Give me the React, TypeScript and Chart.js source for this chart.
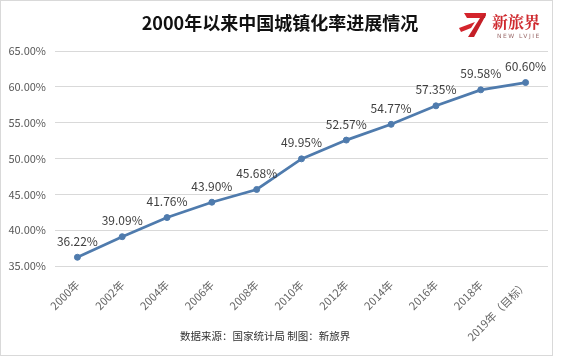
import React, { useEffect, useRef } from "react";
import { Chart, registerables } from "chart.js";

Chart.register(...registerables);

const categories = ["2000年", "2002年", "2004年", "2006年", "2008年", "2010年", "2012年", "2014年", "2016年", "2018年", "2019年（目标）"];
const rates = [36.22, 39.09, 41.76, 43.9, 45.68, 49.95, 52.57, 54.77, 57.35, 59.58, 60.6];
const yMin = 35;
const yMax = 65;
const yStep = 5;

const FONT = "'Noto Sans CJK SC', 'Noto Sans', sans-serif";

const dataLabels = {
  id: "dataLabels",
  afterDatasetsDraw(chart: any) {
    const ctx = chart.ctx;
    const meta = chart.getDatasetMeta(0);
    ctx.save();
    ctx.font = `12px ${FONT}`;
    ctx.fillStyle = "#404040";
    ctx.textAlign = "center";
    ctx.textBaseline = "middle";
    meta.data.forEach((pt: any, i: number) => {
      ctx.fillText(rates[i].toFixed(2) + "%", pt.x, pt.y - 16);
    });
    ctx.restore();
  },
};

export default function App() {
  const ref = useRef<HTMLCanvasElement>(null);
  useEffect(() => {
    document.body.style.margin = "0";
    const chart = new Chart(ref.current!, {
      type: "line",
      data: {
        labels: categories,
        datasets: [
          {
            data: rates,
            borderColor: "#4f7bad",
            backgroundColor: "#4f7bad",
            borderWidth: 2.75,
            pointRadius: 3,
            pointBorderWidth: 1,
            pointBackgroundColor: "#4f7bad",
            pointBorderColor: "#4f7bad",
            tension: 0,
          },
        ],
      },
      options: {
        responsive: false,
        animation: false,
        layout: { padding: { top: 51, right: 16, bottom: 0, left: 0 } },
        plugins: { legend: { display: false }, title: { display: false }, tooltip: { enabled: false } },
        scales: {
          x: {
            type: "category",
            offset: true,
            grid: { display: false, drawTicks: false },
            border: { display: false },
            ticks: {
              color: "#666666",
              font: { family: FONT, size: 11 },
              maxRotation: 45,
              minRotation: 45,
              autoSkip: false,
              padding: 12,
            },
            afterFit: (s: any) => {
              s.height = 90;
            },
          },
          y: {
            min: yMin,
            max: yMax,
            grid: { color: "#d9d9d9", drawTicks: false, lineWidth: 1 },
            border: { display: false },
            ticks: {
              stepSize: yStep,
              color: "#595959",
              font: { family: FONT, size: 11 },
              padding: 9,
              callback: (v: any) => Number(v).toFixed(2) + "%",
            },
            afterFit: (s: any) => {
              s.width = 55;
            },
          },
        },
      },
      plugins: [dataLabels],
    });
    return () => chart.destroy();
  }, []);

  return (
    <div style={{ position: "fixed", left: 0, top: 0, width: 564, height: 356, background: "#fff", fontFamily: FONT }}>
      <canvas ref={ref} width={564} height={356} style={{ position: "absolute", left: 0, top: 0 }} />
      <div
        style={{
          position: "absolute",
          left: 0,
          top: 0,
          width: 551,
          height: 354,
          border: "1px solid #d9d9d9",
          pointerEvents: "none",
        }}
      />
      <div
        style={{
          position: "absolute",
          left: 100,
          width: 360,
          top: 10,
          textAlign: "center",
          fontSize: 18,
          fontWeight: 700,
          color: "#111",
          lineHeight: "24px",
        }}
      >
        2000年以来中国城镇化率进展情况
      </div>
      <svg style={{ position: "absolute", left: 458, top: 12 }} width={30} height={26} viewBox="0 0 30 26">
        <polygon points="6,1 28,1 27,6 9,6" fill="#d4242c" />
        <polygon points="27,1 28,3 16,25 10,25 22,6" fill="#c41f27" />
        <polygon points="1,16 17,10 13,16 3,20" fill="#d4242c" />
      </svg>
      <div
        style={{
          position: "absolute",
          left: 492,
          top: 12,
          fontSize: 16,
          fontWeight: 700,
          color: "#cf2a2f",
          fontFamily: "'Noto Serif CJK SC', 'Noto Sans CJK SC', serif",
          lineHeight: "20px",
          letterSpacing: 0,
        }}
      >
        新旅界
      </div>
      <div
        style={{
          position: "absolute",
          left: 497,
          top: 32,
          fontSize: 6,
          color: "#9a6a6a",
          letterSpacing: 1.5,
          lineHeight: "8px",
          fontFamily: "'DejaVu Sans', sans-serif",
        }}
      >
        NEW LVJIE
      </div>
      <div
        style={{
          position: "absolute",
          left: 180,
          top: 328,
          fontSize: 10.5,
          color: "#333",
          lineHeight: "16px",
          whiteSpace: "nowrap",
        }}
      >
        数据来源：国家统计局 制图：新旅界
      </div>
    </div>
  );
}
